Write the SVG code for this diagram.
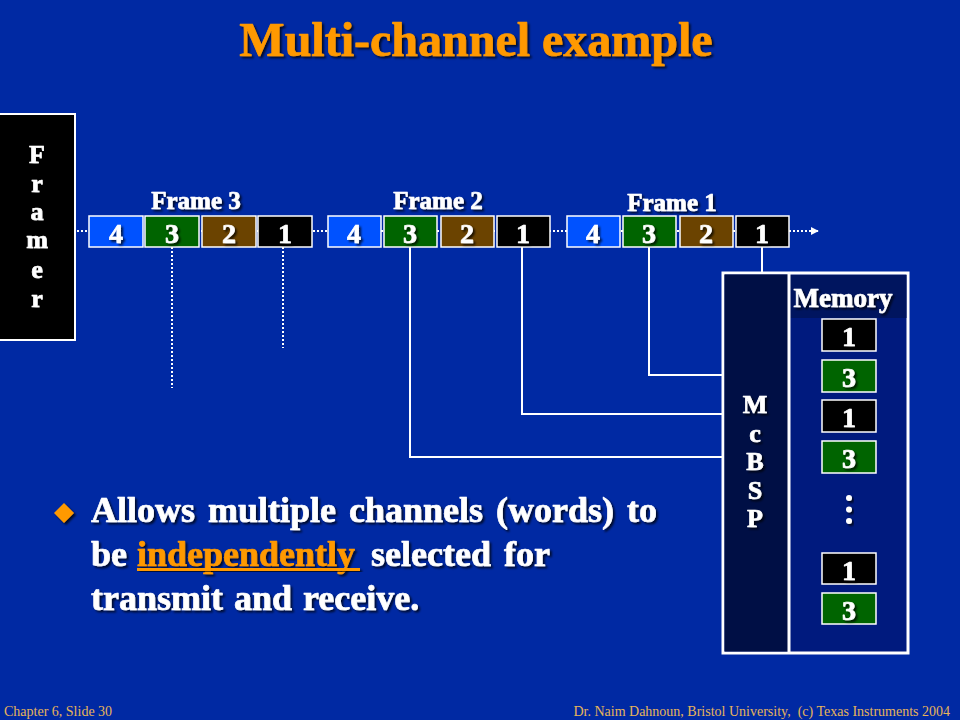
<svg xmlns="http://www.w3.org/2000/svg" width="960" height="720" viewBox="0 0 960 720">
<defs>
<filter id="sh" x="-20%" y="-20%" width="140%" height="140%">
<feDropShadow dx="2" dy="2" stdDeviation="0.8" flood-color="#000" flood-opacity="0.75"/>
</filter>
<marker id="ah" viewBox="0 0 10 10" refX="9" refY="5" markerWidth="5" markerHeight="5" orient="auto" markerUnits="strokeWidth">
<path d="M0,0 L10,5 L0,10 Z" fill="#fff"/>
</marker>
<marker id="ah2" viewBox="0 0 10 10" refX="9" refY="5" markerWidth="4" markerHeight="4" orient="auto" markerUnits="strokeWidth">
<path d="M0,0 L10,5 L0,10 Z" fill="#fff"/>
</marker>
</defs>
<style>
.t{font-family:"Liberation Serif","Times New Roman",serif;font-weight:bold;fill:#fff;stroke:#fff;stroke-width:0.7;stroke-linejoin:round}
.o{fill:#FF9900;stroke:#FF9900}
.num{font-size:28px;text-anchor:middle}
.lbl{font-size:25px;text-anchor:middle}
.cell{stroke:#fff;stroke-width:1.5}
.c4{fill:#0052FF}.c3{fill:#006400}.c2{fill:#6B4300}.c1{fill:#000}
.wire{stroke:#fff;stroke-width:2;fill:none}
.dot{stroke:#fff;stroke-width:2;fill:none;stroke-dasharray:2 2}
.foot{font-family:"Liberation Serif","Times New Roman",serif;font-size:14px;fill:#E6B45A}
</style>
<rect width="960" height="720" fill="#0029A3"/>
<text x="476" y="56" class="t o" style="font-size:48px;text-anchor:middle" filter="url(#sh)">Multi-channel example</text>

<g id="connectors">
<line class="dot" x1="77" y1="231" x2="818" y2="231" marker-end="url(#ah2)"/>
<line class="dot" x1="172" y1="247" x2="172" y2="388"/>
<line class="dot" x1="283" y1="247" x2="283" y2="348"/>
<polyline class="wire" points="410,247 410,457 723,457"/>
<polyline class="wire" points="522,247 522,414 723,414"/>
<polyline class="wire" points="649,247 649,375 723,375"/>
<line class="wire" x1="762" y1="247" x2="762" y2="273"/>
<line class="wire" x1="790" y1="335" x2="821" y2="335" marker-end="url(#ah)"/>
<line class="wire" x1="790" y1="376" x2="821" y2="376" marker-end="url(#ah)"/>
<line class="wire" x1="790" y1="416" x2="821" y2="416" marker-end="url(#ah)"/>
<line class="wire" x1="790" y1="457" x2="821" y2="457" marker-end="url(#ah)"/>
</g>

<g id="framer">
<rect x="-2" y="114" width="77" height="226" fill="#000" stroke="#fff" stroke-width="2"/>
<text class="t" style="font-size:26px;text-anchor:middle" filter="url(#sh)">
<tspan x="37" y="163">F</tspan><tspan x="37" y="192">r</tspan><tspan x="37" y="220">a</tspan><tspan x="37" y="248">m</tspan><tspan x="37" y="278">e</tspan><tspan x="37" y="307">r</tspan>
</text>
</g>

<g id="frame3">
<text x="196" y="209" class="t lbl" filter="url(#sh)">Frame 3</text>
<rect class="cell c4" x="89" y="216" width="54" height="31"/>
<rect class="cell c3" x="145" y="216" width="54" height="31"/>
<rect class="cell c2" x="202" y="216" width="54" height="31"/>
<rect class="cell c1" x="258" y="216" width="54" height="31"/>
<text class="t num" y="243" filter="url(#sh)"><tspan x="116">4</tspan><tspan x="172">3</tspan><tspan x="229">2</tspan><tspan x="285">1</tspan></text>
</g>

<g id="frame2">
<text x="438" y="209" class="t lbl" filter="url(#sh)">Frame 2</text>
<rect class="cell c4" x="328" y="216" width="53" height="31"/>
<rect class="cell c3" x="384" y="216" width="53" height="31"/>
<rect class="cell c2" x="441" y="216" width="53" height="31"/>
<rect class="cell c1" x="497" y="216" width="53" height="31"/>
<text class="t num" y="243" filter="url(#sh)"><tspan x="354">4</tspan><tspan x="410">3</tspan><tspan x="467">2</tspan><tspan x="523">1</tspan></text>
</g>

<g id="frame1">
<text x="672" y="211" class="t lbl" filter="url(#sh)">Frame 1</text>
<rect class="cell c4" x="567" y="216" width="53" height="31"/>
<rect class="cell c3" x="623" y="216" width="53" height="31"/>
<rect class="cell c2" x="680" y="216" width="53" height="31"/>
<rect class="cell c1" x="736" y="216" width="53" height="31"/>
<text class="t num" y="243" filter="url(#sh)"><tspan x="593">4</tspan><tspan x="649">3</tspan><tspan x="706">2</tspan><tspan x="762">1</tspan></text>
</g>

<g id="mcbsp">
<rect x="723" y="273" width="185" height="380" fill="#001A7E" stroke="#fff" stroke-width="3"/>
<rect x="724.5" y="274.5" width="64.5" height="377" fill="#000F45"/>
<rect x="790" y="275" width="116.5" height="43" fill="#00155F"/>
<line x1="789" y1="273" x2="789" y2="653" stroke="#fff" stroke-width="3"/>
<text class="t" style="font-size:26px;text-anchor:middle" filter="url(#sh)">
<tspan x="755" y="413">M</tspan><tspan x="755" y="442">c</tspan><tspan x="755" y="470">B</tspan><tspan x="755" y="499">S</tspan><tspan x="755" y="527">P</tspan>
</text>
</g>

<g id="memory">
<text x="843" y="307" class="t" style="font-size:27px;text-anchor:middle" filter="url(#sh)">Memory</text>
<rect class="cell c1" x="822" y="319" width="54" height="32"/>
<rect class="cell c3" x="822" y="360" width="54" height="32"/>
<rect class="cell c1" x="822" y="400" width="54" height="32"/>
<rect class="cell c3" x="822" y="441" width="54" height="32"/>
<rect class="cell c1" x="822" y="553" width="54" height="31"/>
<rect class="cell c3" x="822" y="593" width="54" height="31"/>
<text class="t num" filter="url(#sh)"><tspan x="849" y="346">1</tspan><tspan x="849" y="387">3</tspan><tspan x="849" y="427">1</tspan><tspan x="849" y="468">3</tspan><tspan x="849" y="580">1</tspan><tspan x="849" y="620">3</tspan></text>
<g fill="#fff" filter="url(#sh)">
<circle cx="849" cy="498" r="3"/>
<circle cx="849" cy="509.5" r="3"/>
<circle cx="849" cy="521" r="3"/>
</g>
</g>

<g id="bullet">
<polygon points="64,503 74,513 64,523 54,513" fill="#FF9900" filter="url(#sh)"/>
<text class="t" style="font-size:36px" filter="url(#sh)">
<tspan x="91" y="522" word-spacing="4">Allows multiple channels (words) to</tspan>
<tspan x="91" y="566">be</tspan><tspan x="137" y="566" class="o">independently</tspan><tspan x="371" y="566" word-spacing="4">selected for</tspan>
<tspan x="91" y="610" word-spacing="2">transmit and receive.</tspan>
</text>
<rect x="137" y="568" width="223" height="3" fill="#FF9900" filter="url(#sh)"/>
</g>

<text x="4" y="716" class="foot">Chapter 6, Slide 30</text>
<text x="950" y="716" class="foot" style="text-anchor:end" xml:space="preserve">Dr. Naim Dahnoun, Bristol University,  (c) Texas Instruments 2004</text>
</svg>
